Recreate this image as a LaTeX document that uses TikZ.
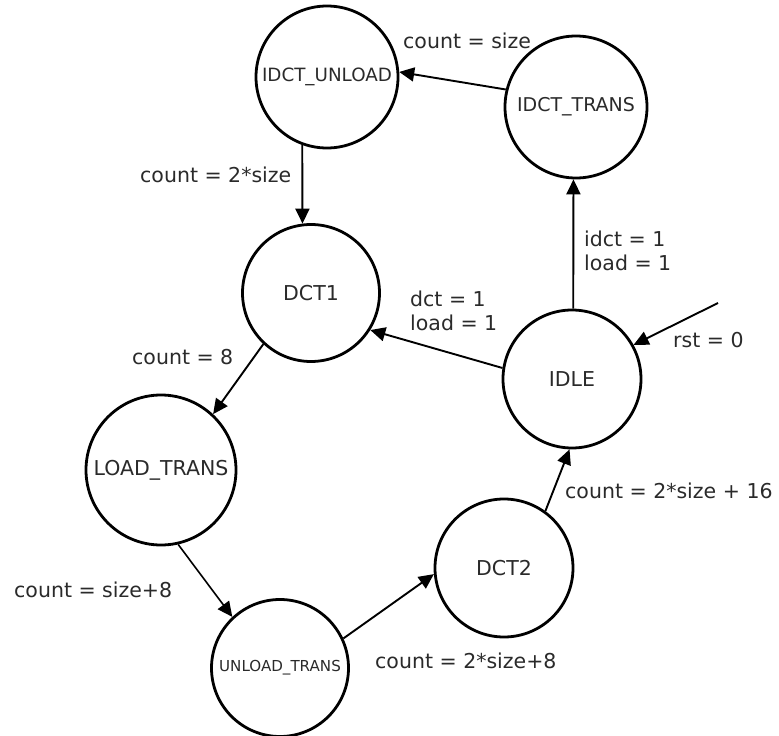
\documentclass[tikz,border=0pt]{standalone}
\usepackage{fontspec}
\setmainfont{DejaVu Sans}
\usetikzlibrary{arrows.meta}
\definecolor{txt}{HTML}{2A2A2A}
\tikzset{
  state/.style={circle, draw=black, line width=2.8pt, inner sep=0pt, text=txt},
  edge/.style={draw=black, line width=1.9pt, -{Triangle[length=15pt,width=14pt]}},
  lbl/.style={text=txt, font=\fontsize{20.5}{23.5}\selectfont, inner sep=0pt, align=left},
}
\begin{document}
\begin{tikzpicture}[x=1pt,y=-1pt]
\useasboundingbox (0,0) rectangle (779,736);
% states
\node[state, minimum size=142pt, font=\fontsize{18.3}{20}\selectfont] (iu) at (327,77) {IDCT\_UNLOAD};
\node[state, minimum size=142pt, font=\fontsize{19}{21}\selectfont] (it) at (576,107) {IDCT\_TRANS};
\node[state, minimum size=137pt, font=\fontsize{20.5}{22}\selectfont] (d1) at (311,293) {DCT1};
\node[state, minimum size=138pt, font=\fontsize{20.5}{22}\selectfont] (idle) at (572,379) {IDLE};
\node[state, minimum size=150pt, font=\fontsize{20.5}{22}\selectfont] (lt) at (161,470) {LOAD\_TRANS};
\node[state, minimum size=138pt, font=\fontsize{20.5}{22}\selectfont] (d2) at (504,568) {DCT2};
\node[state, minimum size=137pt, font=\fontsize{15.1}{17}\selectfont] (ut) at (280,668) {UNLOAD\_TRANS};
\coordinate (rs) at (718,303);
% transitions
\draw[edge] (it.166) -- (iu.4);
\draw[edge] (iu.-110) -- (d1.97);
\draw[edge] (idle.89) -- (it.-92);
\draw[edge] (idle.171) -- (d1.-32);
\draw[edge] (rs) -- (idle.29);
\draw[edge] (d1.-133) -- (lt.47);
\draw[edge, line width=1.6pt] (lt.-77) -- (ut.133);
\draw[edge] (ut.25) -- (d2.185);
\draw[edge] (d2.54) -- (idle.-92);
% labels
\node[lbl, anchor=west] (l1) at (403,41) {count = size};
\node[lbl, anchor=west] (l2) at (140,175) {count = 2*size};
\node[lbl, anchor=west] (l3) at (584,251) {idct = 1\\load = 1};
\node[lbl, anchor=west] (l4) at (410,311) {dct = 1\\load = 1};
\node[lbl, anchor=west] (l5) at (673,340) {rst = 0};
\node[lbl, anchor=west] (l6) at (132,357) {count = 8};
\node[lbl, anchor=west] (l7) at (14,590) {count = size+8};
\node[lbl, anchor=west] (l8) at (375,661) {count = 2*size+8};
\node[lbl, anchor=west] (l9) at (565,491) {count = 2*size + 16};
\end{tikzpicture}
\end{document}
